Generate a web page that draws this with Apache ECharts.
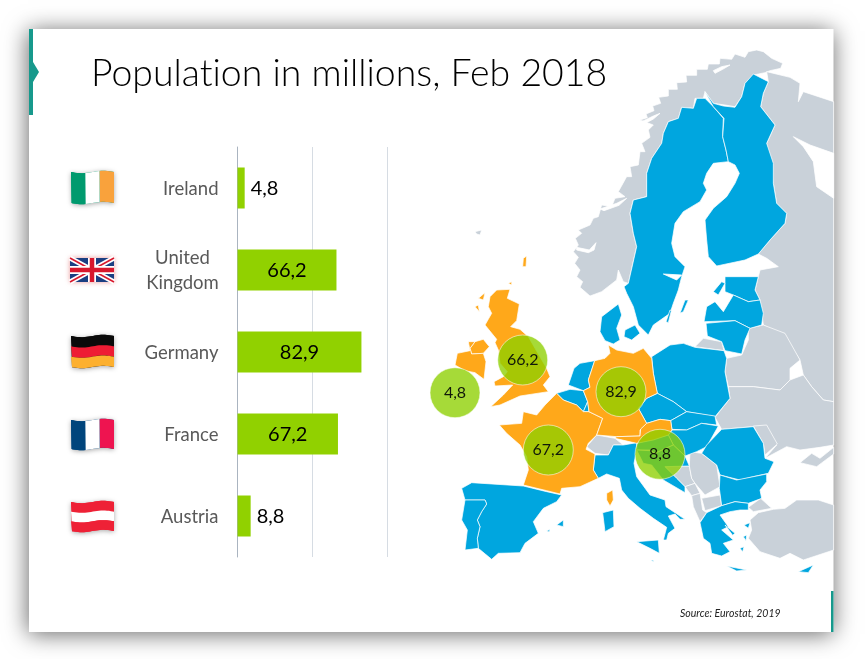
<!DOCTYPE html>
<html><head><meta charset="utf-8">
<style>html,body{margin:0;padding:0;background:#fff}#c{width:865px;height:659px}</style>
<script src="https://cdn.jsdelivr.net/npm/echarts@6/dist/echarts.min.js"></script></head>
<body><div id="c"></div>
<script>
const categories = ['Ireland', 'United\nKingdom', 'Germany', 'France', 'Austria'];
const population = [4.8, 66.2, 82.9, 67.2, 8.8];
const valueTicks = [0, 50, 100];
const bubbleRegionX = [455, 522.7, 621, 548.3, 660];
const bubbleRegionY = [392.7, 360, 391.7, 450, 454.3];
const titleText = 'Population in millions, Feb 2018';
const sourceText = 'Source: Eurostat, 2019';

const highlighted = ['Ireland', 'Northern Ireland', 'UK', 'Germany', 'France', 'Austria', 'Corsica', 'Hebrides', 'Uist', 'Orkney', 'Shetland'];
const nonEU = ['Norway', 'Russia', 'Switzerland', 'Belarus', 'Ukraine', 'Moldova', 'Kaliningrad', 'Bosnia', 'Serbia', 'Montenegro', 'Albania', 'Macedonia', 'Turkey', 'Thrace', 'Crimea', 'Faroe'];
const seas = ['White Sea', 'Vanern', 'Sognefjord', 'Trondheimsfjord', 'Vestfjord', 'Altafjord'];

const shapes = [
 ['Norway', [660,210, 682,203, 678,192, 702,182, 698,168, 722,160, 716,142, 745,138, 745,118, 772,118, 770,98, 800,96, 798,76, 830,76, 830,58, 862,58, 865,42, 898,42, 900,25, 935,28, 945,12, 975,22, 985,5, 1010,0, 1030,5, 1055,25, 1088,40, 1082,55, 1050,62, 1035,68, 1015,72, 1000,75, 975,100, 965,140, 945,170, 915,165, 880,160, 855,125, 850,145, 825,145, 820,175, 785,172, 775,205, 745,215, 730,250, 725,280, 695,325, 680,370, 680,440, 640,450, 630,490, 640,550, 650,590, 625,700, 610,695, 595,660, 590,690, 545,725, 510,738, 480,712, 488,695, 470,680, 480,660, 464,640, 475,622, 460,605, 475,585, 466,565, 485,550, 475,540, 510,525, 520,505, 535,500, 545,465, 575,470, 585,445, 615,440, 595,425, 620,380, 635,380, 630,350, 655,345, 660,305, 675,305, 665,280, 690,262, 685,240, 700,225], []],
 ['Sognefjord', [470,592, 508,600, 528,578, 522,600, 505,608, 470,600], []],
 ['Trondheimsfjord', [540,477, 590,460, 620,445, 597,466, 552,482], []],
 ['Vestfjord', [665,215, 700,198, 720,190, 700,207, 672,222], []],
 ['Altafjord', [880,62, 905,50, 930,45, 908,58, 885,70], []],
 ['Russia', [1030,825, 1020,750, 1005,720, 1015,680, 1020,660, 1075,650, 1040,625, 1015,612, 1050,570, 1095,520, 1100,490, 1070,460, 1060,400, 1040,280, 1065,225, 1022,170, 1030,130, 1045,95, 1040,65, 1110,82, 1140,100, 1135,155, 1150,125, 1241,155, 1241,870], [1241,215, 1210,210, 1175,170, 1150,135, 1140,90, 1095,20]],
 ['White Sea', [1120,260, 1170,285, 1241,310, 1241,445, 1190,410, 1180,335, 1150,290], []],
 ['Belarus', [985,835, 1030,825, 1095,850], [1140,90, 1110,115, 1110,150, 1080,180, 1000,170, 925,170, 915,125, 920,85, 965,75, 985,30]],
 ['Ukraine', [], [925,170, 1000,170, 1080,180, 1110,150, 1150,135, 1175,170, 1210,210, 1241,215, 1241,345, 1200,352, 1140,360, 1100,350, 1035,385, 1070,345, 1040,325, 1000,290, 905,298, 885,262, 930,205]],
 ['Crimea', [], [1140,398, 1175,370, 1200,385, 1241,352, 1241,372, 1190,410]],
 ['Moldova', [], [1000,288, 1040,285, 1072,342, 1035,375, 1030,340]],
 ['Kaliningrad', [], [825,50, 850,25, 905,35, 912,62]],
 ['Turkey', [], [1015,548, 1060,538, 1095,535, 1130,510, 1195,510, 1241,525, 1241,660, 1150,690, 1110,670, 1080,685, 1020,665, 985,625, 995,600, 990,570]],
 ['Thrace', [], [985,532, 1022,505, 1055,535, 1000,545]],
 ['Faroe', [165,545, 185,540, 180,555, 170,552], []],
 ['Switzerland', [], [500,350, 530,315, 585,325, 610,345, 580,345, 565,375, 525,370]],
 ['Bosnia', [], [735,410, 808,408, 815,445, 825,460, 795,470, 770,445]],
 ['Serbia', [], [810,365, 845,370, 890,405, 900,470, 855,495, 825,460, 815,445, 808,408]],
 ['Montenegro', [], [795,470, 825,460, 840,490, 815,497]],
 ['Albania', [], [815,497, 840,490, 848,540, 860,548, 840,575, 820,530]],
 ['Macedonia', [], [845,505, 900,495, 905,527, 855,542]],
 ['Sweden', [855,145, 880,170, 910,205, 908,260, 918,300, 925,335, 880,340, 860,370, 850,400, 860,420, 840,455, 790,485, 765,520, 755,580, 765,620, 795,650, 785,680, 775,720, 760,760, 750,790, 700,825, 685,855, 655,825, 640,770, 620,730, 612,710, 625,700, 650,590, 640,550, 630,490, 640,450, 680,440, 680,370, 695,325, 725,280, 730,250, 745,215, 775,205, 785,172, 820,175, 830,145], []],
 ['Finland', [1000,72, 1045,95, 1030,130, 1022,170, 1065,225, 1040,280, 1060,340, 1060,400, 1070,460, 1100,490, 1095,520, 1050,570, 1015,612, 975,630, 890,648, 865,620, 860,570, 855,510, 880,475, 920,440, 945,400, 958,370, 945,345, 925,335, 918,300, 908,260, 912,205, 880,170, 855,125, 880,160, 910,168, 945,172, 965,140, 975,100], []],
 ['Vanern', [730,672, 785,675, 770,690], []],
 ['Estonia', [915,680, 1015,680, 1005,720, 1020,750, 985,755, 940,735, 915,725], []],
 ['Saaremaa', [880,725, 905,695, 915,700, 895,735], []],
 ['Gotland', [780,790, 795,750, 805,750, 790,785], []],
 ['Oland', [738,815, 750,780, 754,782, 745,818], []],
 ['Latvia', [852,815, 860,770, 885,755, 910,785, 940,735, 985,755, 1020,750, 1030,790, 1025,825, 990,835, 945,812], []],
 ['Lithuania', [858,820, 945,812, 990,835], [975,30, 965,72, 915,62, 905,35, 862,18]],
 ['Denmark', [545,800, 595,762, 605,795, 590,835, 600,870], [580,42, 555,32, 540,5]],
 ['Zealand', [615,840, 645,825, 660,850, 635,870, 612,860], []],
 ['Poland', [], [695,80, 750,45, 790,40, 825,52, 912,62, 920,85, 915,125, 930,205, 885,260, 800,245, 760,215, 712,190, 700,130]],
 ['Netherlands', [], [462,115, 480,100, 524,92, 505,150, 510,172, 490,182, 445,165]],
 ['Belgium', [], [410,190, 450,178, 490,182, 503,215, 490,245, 470,225, 430,210]],
 ['Luxembourg', [], [490,245, 503,215, 507,245]],
 ['Czechia', [], [680,205, 712,190, 760,215, 800,245, 752,272, 720,268, 680,280, 655,235]],
 ['Slovakia', [], [800,245, 885,258, 890,285, 845,280, 800,300, 756,298, 752,272]],
 ['Hungary', [], [756,300, 800,300, 845,280, 895,288, 860,350, 830,365, 795,378, 760,345, 745,315]],
 ['Romania', [], [905,298, 1000,290, 1030,340, 1035,385, 1062,395, 1045,430, 1000,440, 960,450, 900,435, 890,405, 845,370, 860,345]],
 ['Bulgaria', [], [900,435, 950,450, 1040,432, 1040,455, 1020,480, 1025,505, 985,520, 945,515, 905,527, 898,475]],
 ['Slovenia', [], [650,340, 745,315, 760,345, 705,370, 690,360, 650,360]],
 ['Croatia', [], [650,360, 690,362, 705,370, 760,345, 795,378, 808,408, 735,410, 770,445, 795,470, 795,488, 730,450, 695,405, 670,400]],
 ['Italy', [], [525,375, 565,375, 580,345, 610,345, 650,338, 650,360, 642,400, 650,440, 690,495, 735,510, 738,530, 795,568, 780,568, 765,552, 745,558, 765,595, 745,610, 740,630, 730,630, 740,592, 700,565, 660,535, 625,505, 605,480, 598,445, 560,432, 535,445, 520,420]],
 ['Sardinia', [], [548,548, 580,540, 582,590, 555,605]],
 ['Sicily', [], [650,635, 715,630, 718,670, 690,655]],
 ['Malta', [], [694,690, 700,690, 700,695]],
 ['Spain', [], [125,475, 155,458, 310,468, 380,485, 425,495, 410,515, 370,535, 340,575, 355,610, 315,640, 300,668, 235,670, 215,688, 175,655, 172,625, 180,590, 172,570, 185,545, 200,522, 195,510, 135,510]],
 ['Portugal', [], [135,510, 195,510, 200,522, 185,545, 172,570, 180,590, 172,625, 175,655, 135,660, 142,600, 125,570]],
 ['Mallorca', [], [410,585, 430,570, 430,590]],
 ['Ibiza', [], [380,603, 390,598, 388,606]],
 ['Greece', [], [905,527, 945,515, 985,520, 985,540, 960,540, 930,545, 900,555, 925,590, 905,600, 940,630, 910,640, 930,665, 905,678, 875,670, 870,640, 850,625, 840,578, 860,548]],
 ['Crete', [], [920,708, 980,720, 950,723]],
 ['Cyprus', [], [1135,725, 1180,705, 1165,728]],
 ['Lesbos', [], [972,585, 990,578, 985,595]],
 ['Chios', [], [970,620, 980,615, 978,632]],
 ['Euboea', [], [915,585, 945,610, 938,616]],
 ['Naxos', [], [960,655, 972,650, 968,665]],
 ['France', [], [238,285, 305,280, 310,245, 350,255, 375,225, 410,190, 430,210, 470,225, 490,245, 507,245, 548,265, 530,315, 505,340, 498,358, 525,372, 520,420, 535,445, 480,470, 425,475, 420,492, 380,482, 310,465, 325,420, 320,380, 300,345, 260,310]],
 ['Corsica', [], [560,490, 578,480, 580,510, 570,528, 560,510]],
 ['Germany', [], [565,45, 590,60, 640,70, 670,55, 695,85, 700,130, 712,190, 680,205, 655,235, 680,280, 660,300, 660,318, 590,320, 530,315, 548,265, 507,245, 503,215, 490,182, 510,172, 505,150, 524,92, 555,85, 570,70]],
 ['Austria', [], [590,320, 660,318, 662,297, 680,280, 720,268, 752,272, 756,300, 745,315, 700,330, 650,340, 585,325]],
 ['UK', [230,868, 195,825, 215,790, 205,770, 210,740, 230,720, 270,718, 262,745, 298,762, 290,812, 272,830, 300,838, 325,860], [345,55, 380,115, 390,140, 370,165, 385,185, 300,198, 240,225, 212,230, 250,195, 278,165, 225,168, 222,155, 250,140, 262,125, 240,100, 235,60, 225,38]],
 ['Northern Ireland', [], [165,35, 190,28, 208,50, 190,70, 155,72, 150,55]],
 ['Ireland', [], [145,35, 165,35, 150,55, 155,72, 190,70, 198,95, 192,148, 165,128, 135,122, 105,105, 112,70, 150,62]],
 ['Hebrides', [175,745, 195,728, 190,750], []],
 ['Uist', [165,770, 175,765, 178,785], []],
 ['Orkney', [265,700, 275,695, 275,705], []],
 ['Shetland', [310,625, 320,618, 318,650, 308,650], []]
];

function ring(n, s) {
  const out = [];
  for (let i = 0; i < n.length; i += 2) out.push([420 + n[i] / 3, 50 + n[i + 1] / 3]);
  for (let i = 0; i < s.length; i += 2) out.push([420 + s[i] / 3, 330 + s[i + 1] / 3]);
  out.push(out[0].slice());
  return out;
}
const features = [{ type: 'Feature', properties: { name: 'frame' }, geometry: { type: 'Polygon', coordinates: [[[0, 0], [865, 0], [865, 659], [0, 659], [0, 0]]] } }]
  .concat(shapes.map(s => ({ type: 'Feature', properties: { name: s[0] }, geometry: { type: 'Polygon', coordinates: [ring(s[1], s[2])] } })));
echarts.registerMap('europe', { type: 'FeatureCollection', features });

const BLUE = '#00a6df', ORANGE = '#ffa81a', GREY = '#c9d1d9', GREEN = '#91d100', TEAL = '#17998c';
const regionStyles = shapes.map(s => {
  const name = s[0];
  const color = seas.includes(name) ? '#ffffff' : highlighted.includes(name) ? ORANGE : nonEU.includes(name) ? GREY : BLUE;
  return { name, itemStyle: { areaColor: color, borderColor: seas.includes(name) ? '#ffffff' : 'rgba(255,255,255,0.9)', borderWidth: 0.8 } };
});
regionStyles.push({ name: 'frame', itemStyle: { areaColor: 'rgba(0,0,0,0)', borderWidth: 0 } });

// Flag drawing helpers
const flagW = 43;
function wave(x0, x1, y0, y1, fill, shadow) {
  const pts = [], step = 2;
  const off = x => 1.2 * Math.sin((x - 71) / flagW * Math.PI * 2);
  for (let x = x0; x <= x1; x += step) pts.push([x, y0 + off(x)]);
  pts.push([x1, y0 + off(x1)], [x1, y1 + off(x1)]);
  for (let x = x1; x >= x0; x -= step) pts.push([x, y1 + off(x)]);
  const st = { fill };
  if (shadow) { st.shadowBlur = 5; st.shadowColor = 'rgba(0,0,0,0.35)'; st.shadowOffsetY = 1; }
  return { type: 'polygon', z: 5, shape: { points: pts }, style: st };
}
function hFlag(y0, y1, cols) {
  const h = (y1 - y0) / cols.length, out = [wave(71, 114, y0, y1, cols[0], true)];
  cols.forEach((c, i) => out.push(wave(71, 114, y0 + i * h, y0 + (i + 1) * h, c)));
  return out;
}
function vFlag(y0, y1, cols) {
  const w = 43 / cols.length, out = [wave(71, 114, y0, y1, cols[0], true)];
  cols.forEach((c, i) => out.push(wave(71 + i * w, 71 + (i + 1) * w, y0, y1, c)));
  return out;
}
function line(x1, y1, x2, y2, color, w) {
  return { type: 'line', z: 6, shape: { x1, y1, x2, y2 }, style: { stroke: color, lineWidth: w } };
}
const ukFlag = [
  { type: 'rect', z: 5, shape: { x: 70, y: 258, width: 44, height: 24 }, style: { fill: '#1b3f82', shadowBlur: 5, shadowColor: 'rgba(200,0,0,0.4)' } },
  line(70, 258, 114, 282, '#fff', 5), line(70, 282, 114, 258, '#fff', 5),
  line(70, 258, 114, 282, '#d8182d', 1.6), line(70, 282, 114, 258, '#d8182d', 1.6),
  line(92, 258, 92, 282, '#fff', 8), line(70, 270, 114, 270, '#fff', 8),
  line(92, 258, 92, 282, '#d8182d', 4.5), line(70, 270, 114, 270, '#d8182d', 4.5)
];

const graphics = [
  { type: 'rect', z: -20, shape: { x: 29, y: 29, width: 804.5, height: 603 }, style: { fill: '#fff', shadowBlur: 22, shadowColor: 'rgba(0,0,0,0.6)', shadowOffsetX: -1, shadowOffsetY: 2 } },
  { type: 'rect', z: 7, shape: { x: 29, y: 29, width: 4, height: 86 }, style: { fill: TEAL } },
  { type: 'polygon', z: 7, shape: { points: [[33, 62], [39, 72], [33, 82]] }, style: { fill: TEAL } },
  { type: 'rect', z: 7, shape: { x: 831, y: 591, width: 2.5, height: 41 }, style: { fill: TEAL } },
  { type: 'text', z: 7, x: 680, y: 608, style: { text: sourceText, fill: '#222', font: 'italic 10.5px Lato' } }
].concat(
  vFlag(172, 203, ['#009a6e', '#ffffff', '#f9a23c']),
  ukFlag,
  hFlag(336, 367, ['#0a0a0a', '#ee1c34', '#fdb02f']),
  vFlag(420, 449, ['#00457c', '#ffffff', '#ee1450']),
  hFlag(502, 531, ['#ee2136', '#ffffff', '#ee2136'])
);

const chart = echarts.init(document.getElementById('c'), null, { renderer: 'canvas' });
chart.setOption({
  animation: false,
  backgroundColor: '#ffffff',
  title: { text: titleText, left: 91, top: 55, padding: 0, textStyle: { fontFamily: 'Lato', fontWeight: 300, fontSize: 37.4, color: '#000' } },
  graphic: graphics,
  geo: {
    map: 'europe', left: 0, top: 0, width: 865, height: 659, roam: false, silent: true, z: 1,
    projection: { project: p => [p[0], p[1]], unproject: p => [p[0], p[1]] },
    label: { show: false }, regions: regionStyles,
    itemStyle: { areaColor: BLUE, borderColor: '#fff', borderWidth: 0.8 },
    emphasis: { disabled: true }
  },
  grid: { left: 237.5, width: 149.5, top: 147, height: 410 },
  xAxis: {
    type: 'value', min: valueTicks[0], max: valueTicks[2], interval: valueTicks[1],
    axisLabel: { show: false }, axisTick: { show: false }, axisLine: { show: false },
    splitLine: { lineStyle: { color: '#d6dce3', width: 1 } }
  },
  yAxis: {
    type: 'category', inverse: true, data: categories,
    axisTick: { show: false },
    axisLine: { lineStyle: { color: '#aab4c0', width: 1 } },
    axisLabel: {
      margin: 19, fontFamily: 'Lato', fontSize: 18.5, color: '#595959', padding: [2, 0, 0, 0],
      formatter: v => v.includes('\n') ? v.split('\n').map(t => '{c|' + t + '}').join('\n') : v,
      rich: { c: { width: 72, align: 'center', fontFamily: 'Lato', fontSize: 18.5, color: '#595959', lineHeight: 25 } }
    }
  },
  series: [
    {
      type: 'bar', barWidth: 41, z: 3, itemStyle: { color: GREEN },
      data: population.map(v => ({
        value: v,
        label: { show: true, position: v < 20 ? 'right' : 'inside', distance: 6, offset: [0, 1], formatter: p => String(p.value).replace('.', ','), fontFamily: 'Lato', fontSize: 20, color: '#000' }
      }))
    },
    {
      type: 'scatter', coordinateSystem: 'geo', geoIndex: 0, symbol: 'circle', symbolSize: 50, z: 4,
      itemStyle: { color: 'rgba(141,208,0,0.78)', opacity: 1, borderColor: 'rgba(255,255,255,0.55)', borderWidth: 1 },
      label: { show: true, position: 'inside', formatter: p => String(p.value[2]).replace('.', ','), fontFamily: 'Lato', fontSize: 16, color: '#10180a' },
      data: population.map((v, i) => [bubbleRegionX[i], bubbleRegionY[i], v])
    }
  ]
});
// Plain (non-ligated) glyphs for all labels, as in the original.
const cv = document.querySelector('#c canvas');
if (cv) { cv.getContext('2d').letterSpacing = '0.01px'; chart.getZr().painter.refresh(true); }
</script></body></html>
